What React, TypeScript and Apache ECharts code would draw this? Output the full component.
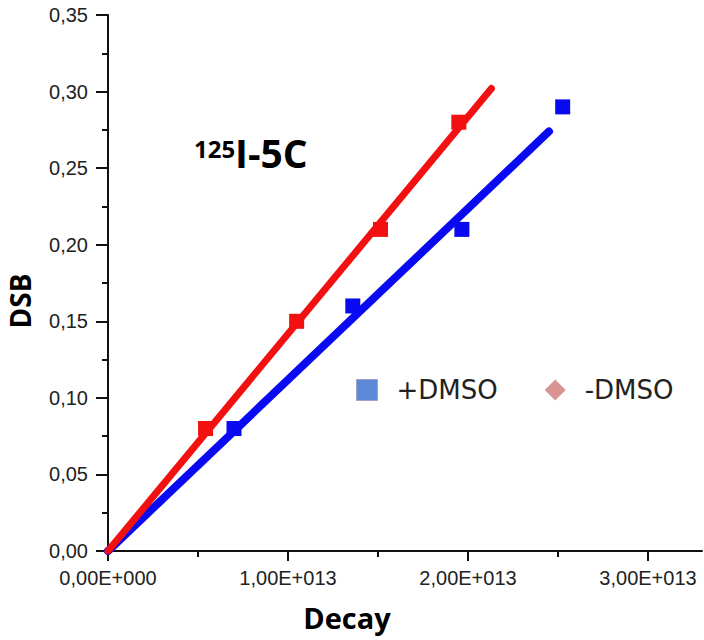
import React, { useEffect, useRef } from "react";
import * as echarts from "echarts";

// +DMSO (blue squares) measured points
const plusDmsoX = [0.70e13, 1.36e13, 1.966e13, 2.526e13];
const plusDmsoY = [0.08, 0.16, 0.21, 0.29];
// -DMSO (red squares) measured points
const minusDmsoX = [0.542e13, 1.048e13, 1.514e13, 1.949e13];
const minusDmsoY = [0.08, 0.15, 0.21, 0.28];
// linear fits through origin
const plusFitX = [0, 2.45e13];
const plusFitY = [0, 0.274];
const minusFitX = [0, 2.13e13];
const minusFitY = [0, 0.302];

// tick positions
const xMajorTicks = [0, 1e13, 2e13, 3e13];
const xMinorTicks = [0.5e13, 1.5e13, 2.5e13];

const seriesNames = ["+DMSO", "-DMSO"];
const titleSup = "125";
const titleMain = "I-5C";
const xAxisName = "Decay";
const yAxisName = "DSB";

const pairs = (xs: number[], ys: number[]) => xs.map((x, i) => [x, ys[i]]);

export default function App() {
  const ref = useRef<HTMLDivElement>(null);
  useEffect(() => {
    if (!ref.current) return;
    const chart = echarts.init(ref.current, null, { renderer: "svg" });
    const tickFont = { fontFamily: "Liberation Sans", fontSize: 20, color: "#222" };
    const xMax = 3.3e13;
    chart.setOption({
      animation: false,
      backgroundColor: "#fff",
      grid: { left: 108, top: 15, right: 2, bottom: 89, containLabel: false, outerBoundsMode: "none" },
      legend: {
        left: 356,
        top: 377,
        padding: 0,
        selectedMode: false,
        itemWidth: 21,
        itemHeight: 21,
        itemGap: 47,
        textStyle: { fontFamily: "DejaVu Sans", fontSize: 26, color: "#222", padding: [0, 0, 0, 14] },
        data: [
          { name: seriesNames[0], icon: "rect", itemStyle: { color: "#5b8ad6", borderColor: "#a99ccc", borderWidth: 1 } },
          { name: seriesNames[1], icon: "diamond", itemStyle: { color: "#d99594" } },
        ],
      },
      xAxis: [
        {
          type: "value",
          min: 0,
          max: xMax,
          name: xAxisName,
          nameLocation: "middle",
          nameGap: 52,
          nameTextStyle: { fontFamily: "Open Sans", fontWeight: "bold", fontSize: 29, color: "#000", padding: [0, 116, 0, 0] },
          axisLine: { show: true, lineStyle: { color: "#111", width: 2 } },
          axisTick: { show: true, length: 10, customValues: xMajorTicks, lineStyle: { color: "#111", width: 2 } },
          splitLine: { show: false },
          axisLabel: {
            ...tickFont,
            margin: 17,
            customValues: xMajorTicks,
            formatter: (v: number) => {
              if (v === 0) return "0,00E+000";
              return (v / 1e13).toFixed(2).replace(".", ",") + "E+013";
            },
          },
        },
        {
          type: "value",
          min: 0,
          max: xMax,
          position: "bottom",
          axisLine: { show: false },
          axisTick: { show: true, length: 6, customValues: xMinorTicks, lineStyle: { color: "#111", width: 2 } },
          axisLabel: { show: false },
          splitLine: { show: false },
        },
      ],
      yAxis: {
        type: "value",
        min: 0,
        max: 0.35,
        interval: 0.05,
        name: yAxisName,
        nameLocation: "middle",
        nameGap: 74,
        nameTextStyle: { fontFamily: "Open Sans", fontWeight: "bold", fontSize: 28, color: "#000", padding: [0, 36, 0, 0] },
        axisLine: { show: true, lineStyle: { color: "#111", width: 2 } },
        axisTick: { show: true, length: 12, lineStyle: { color: "#111", width: 2 } },
        minorTick: { show: true, splitNumber: 2, length: 6, lineStyle: { color: "#111", width: 2 } },
        splitLine: { show: false },
        axisLabel: {
          ...tickFont,
          margin: 20,
          formatter: (v: number) => v.toFixed(2).replace(".", ","),
        },
      },
      graphic: [
        {
          type: "text",
          left: 194,
          top: 136,
          style: { text: titleSup, font: "bold 24px 'Open Sans'", fill: "#000" },
        },
        {
          type: "text",
          left: 235,
          top: 133,
          style: { text: titleMain, font: "bold 39px 'Open Sans'", fill: "#000" },
        },
      ],
      series: [
        {
          name: "+DMSO fit",
          type: "line",
          data: pairs(plusFitX, plusFitY),
          showSymbol: false,
          symbol: "none",
          lineStyle: { color: "#0a0af2", width: 8, cap: "round" },
          z: 2,
        },
        {
          name: "-DMSO fit",
          type: "line",
          data: pairs(minusFitX, minusFitY),
          showSymbol: false,
          symbol: "none",
          lineStyle: { color: "#f21010", width: 7, cap: "round" },
          z: 2,
        },
        {
          name: seriesNames[0],
          type: "scatter",
          data: pairs(plusDmsoX, plusDmsoY),
          symbol: "rect",
          symbolSize: 15,
          itemStyle: { color: "#0a0af2", opacity: 1 },
          z: 3,
        },
        {
          name: seriesNames[1],
          type: "scatter",
          data: pairs(minusDmsoX, minusDmsoY),
          symbol: "rect",
          symbolSize: 15,
          itemStyle: { color: "#f21010", opacity: 1 },
          z: 3,
        },
      ],
    });
    return () => chart.dispose();
  }, []);
  return (
    <div
      ref={ref}
      style={{ position: "fixed", left: 0, top: 0, width: 704, height: 640, overflow: "hidden" }}
    />
  );
}
